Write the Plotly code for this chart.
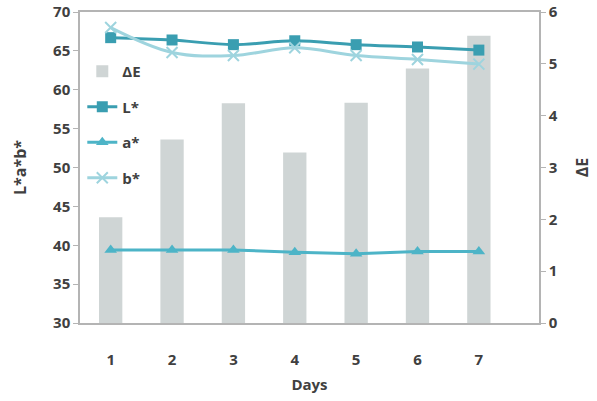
import plotly.graph_objects as go

days = [1, 2, 3, 4, 5, 6, 7]
delta_e = [2.04, 3.54, 4.24, 3.29, 4.25, 4.91, 5.54]
L_star = [66.7, 66.4, 65.8, 66.3, 65.8, 65.5, 65.1]
a_star = [39.4, 39.4, 39.4, 39.1, 38.9, 39.2, 39.2]
b_star = [68.0, 64.8, 64.4, 65.4, 64.4, 63.9, 63.3]

font_family = "Open Sans"
txt = "#404040"
axis_col = "#B4B4B4"

fig = go.Figure()
fig.add_trace(go.Bar(x=days, y=delta_e, name="<b>ΔE</b>", yaxis="y",
                     marker=dict(color="#CFD5D5", line=dict(width=0)),
                     width=0.38, legendgroup="g1"))
fig.add_trace(go.Scatter(x=days, y=L_star, name="<b>L*</b>", yaxis="y2",
                         mode="lines+markers", line=dict(color="#3A9EB1", width=3, shape="spline"),
                         marker=dict(symbol="square", size=11, color="#3A9EB1"),
                         legendgroup="g2"))
fig.add_trace(go.Scatter(x=days, y=a_star, name="<b>a*</b>", yaxis="y2",
                         mode="lines+markers", line=dict(color="#4DB4C7", width=3),
                         marker=dict(symbol="triangle-up", size=11, color="#4DB4C7"),
                         legendgroup="g3"))
fig.add_trace(go.Scatter(x=days, y=b_star, name="<b>b*</b>", yaxis="y2",
                         mode="lines+markers", line=dict(color="#9ED4DE", width=3, shape="spline"),
                         marker=dict(symbol="x-thin-open", size=11, line=dict(color="#9ED4DE", width=2)),
                         legendgroup="g4"))

fig.update_layout(
    width=597, height=401,
    margin=dict(l=80, r=58, t=12, b=78, autoexpand=False),
    paper_bgcolor="white", plot_bgcolor="white",
    font=dict(family=font_family, size=15, color=txt),
    showlegend=True,
    legend=dict(x=0.005, y=0.862, xanchor="left", yanchor="top",
                bgcolor="rgba(0,0,0,0)", tracegroupgap=13,
                font=dict(size=15, color=txt), itemwidth=30),
    xaxis=dict(range=[0.5, 7.98], tickvals=days, ticktext=[f"<b>{d}</b>" for d in days],
               showline=True, linecolor=axis_col, linewidth=1.5, mirror=True,
               showgrid=False, zeroline=False, ticks="", ticklabelstandoff=22,
               layer="below traces", automargin=False, ticklabeloverflow="allow",
               title=dict(text="<b>Days</b>", standoff=12, font=dict(size=15))),
    yaxis=dict(side="right", range=[0, 6],
               tickvals=list(range(0, 7)), ticktext=[f"<b>{v}</b>" for v in range(0, 7)],
               showline=True, linecolor=axis_col, linewidth=1.5, automargin=False,
               ticklabeloverflow="allow",
               showgrid=False, zeroline=False, ticks="outside", ticklen=5, tickcolor=axis_col,
               title=dict(text="<b>ΔE</b>", standoff=20, font=dict(size=16))),
    yaxis2=dict(side="left", overlaying="y", range=[30, 70],
                tickvals=list(range(30, 71, 5)), ticktext=[f"<b>{v}</b>" for v in range(30, 71, 5)],
                showline=True, linecolor=axis_col, linewidth=1.5, automargin=False,
                ticklabeloverflow="allow",
                showgrid=False, zeroline=False, ticks="outside", ticklen=5, tickcolor=axis_col,
                title=dict(text="<b>L*a*b*</b>", standoff=22, font=dict(size=16))),
)

fig.write_html("out.html")
